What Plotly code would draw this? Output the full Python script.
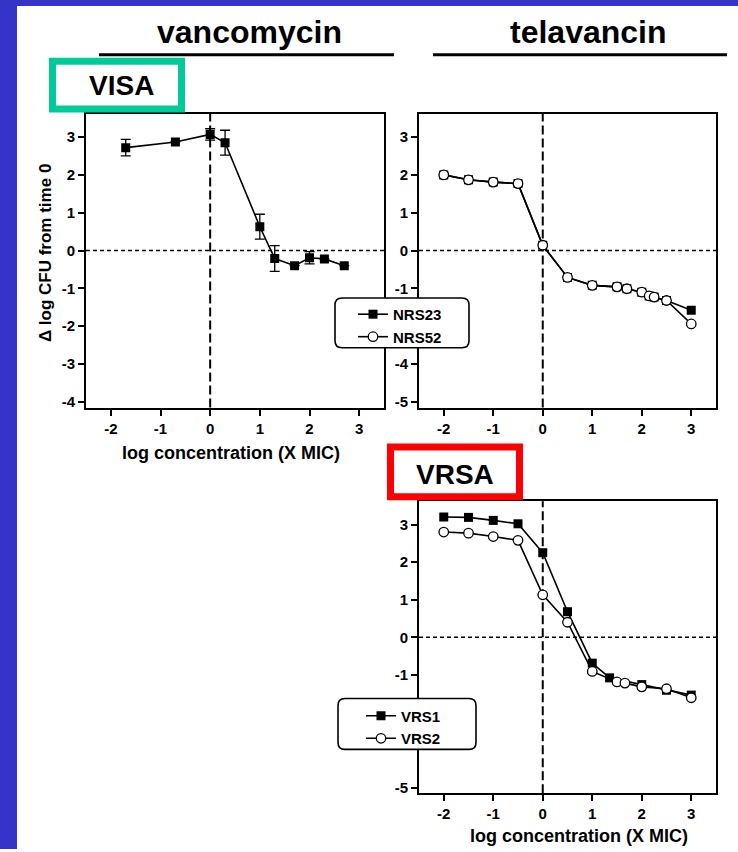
import plotly.graph_objects as go

W, H = 738, 852
FONT = "Liberation Sans"

# ---- data: change in log CFU vs log concentration (x MIC) ----
# vancomycin, VISA strain (with error bars)
vanc_x = [-1.7, -0.7, 0.0, 0.3, 1.0, 1.3, 1.7, 2.0, 2.3, 2.7]
vanc_nrs23 = [2.72, 2.87, 3.07, 2.85, 0.63, -0.21, -0.40, -0.19, -0.22, -0.40]
vanc_nrs23_err = [0.22, 0.0, 0.15, 0.33, 0.33, 0.34, 0.0, 0.16, 0.0, 0.0]

# telavancin, VISA strains
tela_x = [-2.0, -1.5, -1.0, -0.5, 0.0, 0.5, 1.0, 1.5, 1.7, 2.0, 2.15, 2.25, 2.5, 3.0]
tela_nrs23 = [2.0, 1.87, 1.81, 1.77, 0.14, -0.71, -0.92, -0.96, -1.01, -1.10, -1.20, -1.23, -1.32, -1.58]
tela_nrs52 = [2.0, 1.87, 1.81, 1.77, 0.14, -0.71, -0.92, -0.96, -1.01, -1.10, -1.20, -1.23, -1.32, -1.94]

# telavancin, VRSA strains
vrs1_x = [-2.0, -1.5, -1.0, -0.5, 0.0, 0.5, 1.0, 1.35, 2.0, 2.5, 3.0]
vrs1 = [3.20, 3.19, 3.11, 3.02, 2.25, 0.68, -0.69, -1.08, -1.26, -1.41, -1.54]
vrs2_x = [-2.0, -1.5, -1.0, -0.5, 0.0, 0.5, 1.0, 1.5, 1.66, 2.0, 2.5, 3.0]
vrs2 = [2.80, 2.77, 2.68, 2.58, 1.13, 0.40, -0.91, -1.19, -1.22, -1.32, -1.37, -1.61]

x_ticks = [-2, -1, 0, 1, 2, 3]
x_text = ["-2", "-1", "0", "1", "2", "3"]
y_ticks_left = [3, 2, 1, 0, -1, -2, -3, -4]
y_text_left = ["3", "2", "1", "0", "-1", "-2", "-3", "-4"]
y_ticks_right = [3, 2, 1, 0, -1, -2, -3, -4]
y_text_right = ["3", "2", "1", "0", "-1", "", "-4", "-5"]
y_ticks_bottom = [3, 2, 1, 0, -1, -2, -4]
y_text_bottom = ["3", "2", "1", "0", "-1", "", "-5"]

X_RANGE = [-2.5, 3.5]
Y_RANGE = [-4.15, 3.62]


def px(x):
    return x / W


def py(y):
    return 1 - y / H


fig = go.Figure()

sq = dict(symbol="square", size=9, color="black")
circ = dict(symbol="circle", size=9.5, color="white", line=dict(color="black", width=1.3))
ln = dict(color="black", width=1.6)

fig.add_trace(go.Scatter(
    x=vanc_x, y=vanc_nrs23, mode="lines+markers", name="NRS23",
    marker=sq, line=ln, showlegend=False, xaxis="x", yaxis="y",
    error_y=dict(type="data", array=vanc_nrs23_err, color="black", thickness=1.3, width=5),
))
fig.add_trace(go.Scatter(
    x=tela_x, y=tela_nrs23, mode="lines+markers", name="NRS23",
    marker=sq, line=ln, xaxis="x2", yaxis="y2", legend="legend",
))
fig.add_trace(go.Scatter(
    x=tela_x, y=tela_nrs52, mode="lines+markers", name="NRS52",
    marker=circ, line=ln, xaxis="x2", yaxis="y2", legend="legend",
))
fig.add_trace(go.Scatter(
    x=vrs1_x, y=vrs1, mode="lines+markers", name="VRS1",
    marker=sq, line=ln, xaxis="x3", yaxis="y3", legend="legend2",
))
fig.add_trace(go.Scatter(
    x=vrs2_x, y=vrs2, mode="lines+markers", name="VRS2",
    marker=circ, line=ln, xaxis="x3", yaxis="y3", legend="legend2",
))

tickfont = dict(family=FONT, size=15, color="black", weight="bold")
axis_common = dict(
    showline=True, linecolor="black", linewidth=2, mirror=True,
    ticks="outside", ticklen=6, tickwidth=2, tickcolor="black",
    showgrid=False, zeroline=False, tickfont=tickfont, fixedrange=True,
)

top_dom = [py(409), py(114)]
bot_dom = [py(796), py(503)]
left_dom = [px(86), px(384)]
right_dom = [px(419), px(716)]

fig.update_layout(
    xaxis=dict(domain=left_dom, range=X_RANGE, tickvals=x_ticks, ticktext=x_text,
               anchor="y", **axis_common),
    yaxis=dict(domain=top_dom, range=Y_RANGE, tickvals=y_ticks_left, ticktext=y_text_left,
               anchor="x", **axis_common),
    xaxis2=dict(domain=right_dom, range=X_RANGE, tickvals=x_ticks, ticktext=x_text,
                anchor="y2", **axis_common),
    yaxis2=dict(domain=top_dom, range=Y_RANGE, tickvals=y_ticks_right, ticktext=y_text_right,
                anchor="x2", **axis_common),
    xaxis3=dict(domain=right_dom, range=X_RANGE, tickvals=x_ticks, ticktext=x_text,
                anchor="y3", **axis_common),
    yaxis3=dict(domain=bot_dom, range=Y_RANGE, tickvals=y_ticks_bottom, ticktext=y_text_bottom,
                anchor="x3", **axis_common),
)

# reference lines at zero concentration / zero change
shapes = []
for xa, ya in (("x", "y"), ("x2", "y2"), ("x3", "y3")):
    shapes.append(dict(type="line", xref=f"{xa} domain", yref=ya, x0=0, x1=1, y0=0, y1=0,
                       line=dict(color="black", width=1.6, dash="4px,3px"), layer="below"))
    shapes.append(dict(type="line", xref=xa, yref=f"{ya} domain", x0=0, x1=0, y0=0, y1=1,
                       line=dict(color="black", width=2, dash="9px,4px"), layer="below"))

# page frame: blue strips on the left and top
BLUE = "#3434c8"
shapes.append(dict(type="rect", xref="paper", yref="paper", x0=0, x1=px(17), y0=0, y1=1,
                   fillcolor=BLUE, line=dict(width=0), layer="above"))
shapes.append(dict(type="rect", xref="paper", yref="paper", x0=0, x1=1, y0=py(6), y1=1,
                   fillcolor=BLUE, line=dict(width=0), layer="above"))

# heading underlines
shapes.append(dict(type="line", xref="paper", yref="paper", x0=px(99), x1=px(394), y0=py(55), y1=py(55),
                   line=dict(color="black", width=3), layer="above"))
shapes.append(dict(type="line", xref="paper", yref="paper", x0=px(433), x1=px(727), y0=py(55), y1=py(55),
                   line=dict(color="black", width=3), layer="above"))

# strain tag boxes
shapes.append(dict(type="rect", xref="paper", yref="paper", x0=px(52.5), x1=px(181.5),
                   y0=py(109.5), y1=py(61.5), line=dict(color="#00c99a", width=7),
                   fillcolor="white", layer="above"))
shapes.append(dict(type="rect", xref="paper", yref="paper", x0=px(390.5), x1=px(519.5),
                   y0=py(498.5), y1=py(448.5), line=dict(color="#ff0000", width=7),
                   fillcolor="white", layer="above"))


def rounded_box(x0, y0, x1, y1, r=7):
    rx, ry = r / W, r / H
    a, b, c, d = px(x0), px(x1), py(y1), py(y0)  # left, right, bottom, top in paper
    return (f"M {a + rx},{d} L {b - rx},{d} Q {b},{d} {b},{d - ry} "
            f"L {b},{c + ry} Q {b},{c} {b - rx},{c} L {a + rx},{c} Q {a},{c} {a},{c + ry} "
            f"L {a},{d - ry} Q {a},{d} {a + rx},{d} Z")


for box in ((335, 299, 469, 349), (338, 701, 476, 752)):
    shapes.append(dict(type="path", xref="paper", yref="paper", path=rounded_box(*box),
                       fillcolor="white", line=dict(color="black", width=1.6), layer="above"))

fig.update_layout(shapes=shapes)


def txt(text, x, y, size, angle=0):
    return dict(text=text, x=px(x), y=py(y), xref="paper", yref="paper", showarrow=False,
                xanchor="center", yanchor="middle", textangle=angle,
                font=dict(family=FONT, size=size, color="black", weight="bold"))


fig.update_layout(annotations=[
    txt("vancomycin", 249, 32, 32),
    txt("telavancin", 588, 32, 32),
    txt("VISA", 121, 86, 28),
    txt("VRSA", 455, 476, 28),
    txt("\u0394 log CFU from time 0", 45, 254, 17, angle=-90),
    txt("log concentration (X MIC)", 231, 455, 18),
    txt("log concentration (X MIC)", 579, 839, 18),
])

legend_common = dict(
    bgcolor="rgba(0,0,0,0)", borderwidth=0, xanchor="left", yanchor="top",
    font=dict(family=FONT, size=15, color="black", weight="bold"),
    itemclick=False, itemdoubleclick=False,
)
fig.update_layout(
    legend=dict(x=px(353), y=py(299), **legend_common),
    legend2=dict(x=px(361), y=py(702), **legend_common),
)

fig.update_layout(
    width=W, height=H, margin=dict(l=0, r=0, t=0, b=0),
    paper_bgcolor="white", plot_bgcolor="white",
)

fig.write_html("out.html")
